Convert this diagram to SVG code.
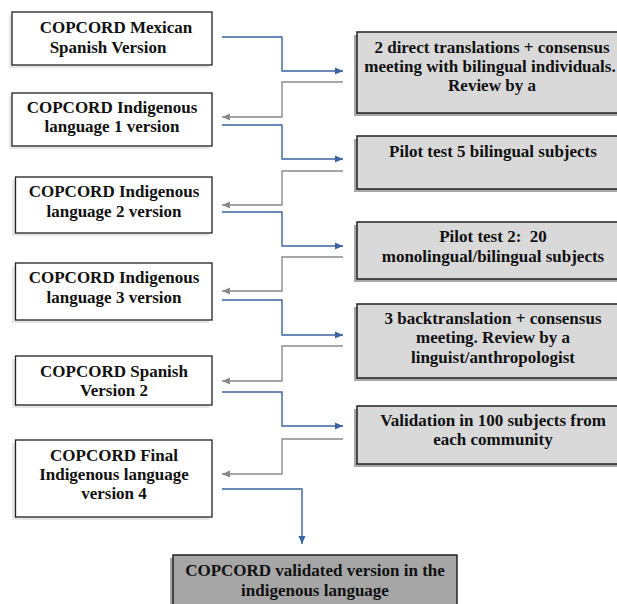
<svg xmlns="http://www.w3.org/2000/svg" width="617" height="604" viewBox="0 0 617 604">
  <defs>
    <marker id="ab" markerUnits="userSpaceOnUse" markerWidth="9" markerHeight="8" refX="8" refY="4" orient="auto">
      <path d="M0,0.5 L8,4 L0,7.5 z" fill="#3c64a0"/>
    </marker>
    <marker id="ag" markerUnits="userSpaceOnUse" markerWidth="9" markerHeight="8" refX="8" refY="4" orient="auto">
      <path d="M0,0.5 L8,4 L0,7.5 z" fill="#8a8a8a"/>
    </marker>
  </defs>
  <style>
    text { font-weight: bold; font-size: 17px; fill: #111; text-anchor: middle; }
    .wbox { fill: #ffffff; stroke: #222; stroke-width: 1.3; }
    .wsh { fill: #e6e6e6; }
    .gbox { fill: #d9d9d9; stroke: #222; stroke-width: 1.5; }
    .gsh { fill: #a8a8a8; }
    .dbox { fill: #a6a6a6; stroke: #222; stroke-width: 1.5; }
    .blue { fill: none; stroke: #3c64a0; stroke-width: 1.4; marker-end: url(#ab); }
    .grey { fill: none; stroke: #8a8a8a; stroke-width: 1.4; marker-end: url(#ag); }
  </style>

  <rect width="617" height="604" fill="#ffffff"/>

  <g id="connectors">
    <path class="blue" d="M222,37 H282 V71 H343"/>
    <path class="grey" d="M343,82 H282 V117 H222"/>
    <path class="blue" d="M222,125 H282 V159 H343"/>
    <path class="grey" d="M343,171 H282 V205 H222"/>
    <path class="blue" d="M222,212 H282 V246 H343"/>
    <path class="grey" d="M343,257 H282 V291 H222"/>
    <path class="blue" d="M222,300 H282 V335 H343"/>
    <path class="grey" d="M343,346 H282 V381 H222"/>
    <path class="blue" d="M222,392 H282 V426 H343"/>
    <path class="grey" d="M343,439 H282 V474 H222"/>
    <path class="blue" d="M222,489 H302 V544"/>
  </g>

  <g font-family="'Liberation Serif', Tinos, 'Times New Roman', 'DejaVu Serif', serif">
  <g id="n1">
    <rect class="wsh" x="9" y="15" width="200" height="53"/>
    <rect class="wbox" x="12" y="12" width="200" height="53"/>
    <text x="116" y="33">COPCORD Mexican</text>
    <text x="108" y="53">Spanish Version</text>
  </g>
  <g id="n2">
    <rect class="wsh" x="9" y="96" width="200" height="53"/>
    <rect class="wbox" x="12" y="93" width="200" height="53"/>
    <text x="112" y="113">COPCORD Indigenous</text>
    <text x="112" y="132">language 1 version</text>
  </g>
  <g id="n3">
    <rect class="wsh" x="12" y="180" width="197" height="56"/>
    <rect class="wbox" x="15.5" y="177" width="196.5" height="56"/>
    <text x="114" y="197">COPCORD Indigenous</text>
    <text x="114" y="217">language 2 version</text>
  </g>
  <g id="n4">
    <rect class="wsh" x="12" y="266" width="197" height="57"/>
    <rect class="wbox" x="15.5" y="263" width="196.5" height="57"/>
    <text x="114" y="283">COPCORD Indigenous</text>
    <text x="114" y="303">language 3 version</text>
  </g>
  <g id="n5">
    <rect class="wsh" x="12" y="359" width="197" height="49"/>
    <rect class="wbox" x="15.5" y="356" width="196.5" height="49"/>
    <text x="114" y="377">COPCORD Spanish</text>
    <text x="114" y="396">Version 2</text>
  </g>
  <g id="n6">
    <rect class="wsh" x="12" y="443" width="197" height="77"/>
    <rect class="wbox" x="15.5" y="440" width="196.5" height="77"/>
    <text x="114" y="461">COPCORD Final</text>
    <text x="114" y="480">Indigenous language</text>
    <text x="114" y="499">version 4</text>
  </g>

  <g id="s1">
    <rect class="gsh" x="354" y="35" width="280" height="81"/>
    <rect class="gbox" x="357" y="32" width="280" height="81"/>
    <text x="492" y="53">2 direct translations + consensus</text>
    <text x="490" y="72">meeting with bilingual individuals.</text>
    <text x="492" y="91">Review by a</text>
  </g>
  <g id="s2">
    <rect class="gsh" x="354" y="139" width="280" height="53"/>
    <rect class="gbox" x="357" y="136" width="280" height="53"/>
    <text x="493" y="157">Pilot test 5 bilingual subjects</text>
  </g>
  <g id="s3">
    <rect class="gsh" x="354" y="225" width="280" height="57"/>
    <rect class="gbox" x="357" y="222" width="280" height="57"/>
    <text x="493" y="242" xml:space="preserve">Pilot test 2:  20</text>
    <text x="493" y="262">monolingual/bilingual subjects</text>
  </g>
  <g id="s4">
    <rect class="gsh" x="354" y="307" width="280" height="74"/>
    <rect class="gbox" x="357" y="304" width="280" height="74"/>
    <text x="493" y="324">3 backtranslation + consensus</text>
    <text x="493" y="343">meeting. Review by a</text>
    <text x="493" y="363">linguist/anthropologist</text>
  </g>
  <g id="s5">
    <rect class="gsh" x="354" y="409" width="280" height="58"/>
    <rect class="gbox" x="357" y="406" width="280" height="58"/>
    <text x="493" y="426">Validation in 100 subjects from</text>
    <text x="493" y="445">each community</text>
  </g>

  <g id="final">
    <rect class="gsh" x="170" y="558" width="284" height="60"/>
    <rect class="dbox" x="173" y="555" width="284" height="60"/>
    <text x="315" y="576">COPCORD validated version in the</text>
    <text x="315" y="596">indigenous language</text>
  </g>
  </g>
</svg>
